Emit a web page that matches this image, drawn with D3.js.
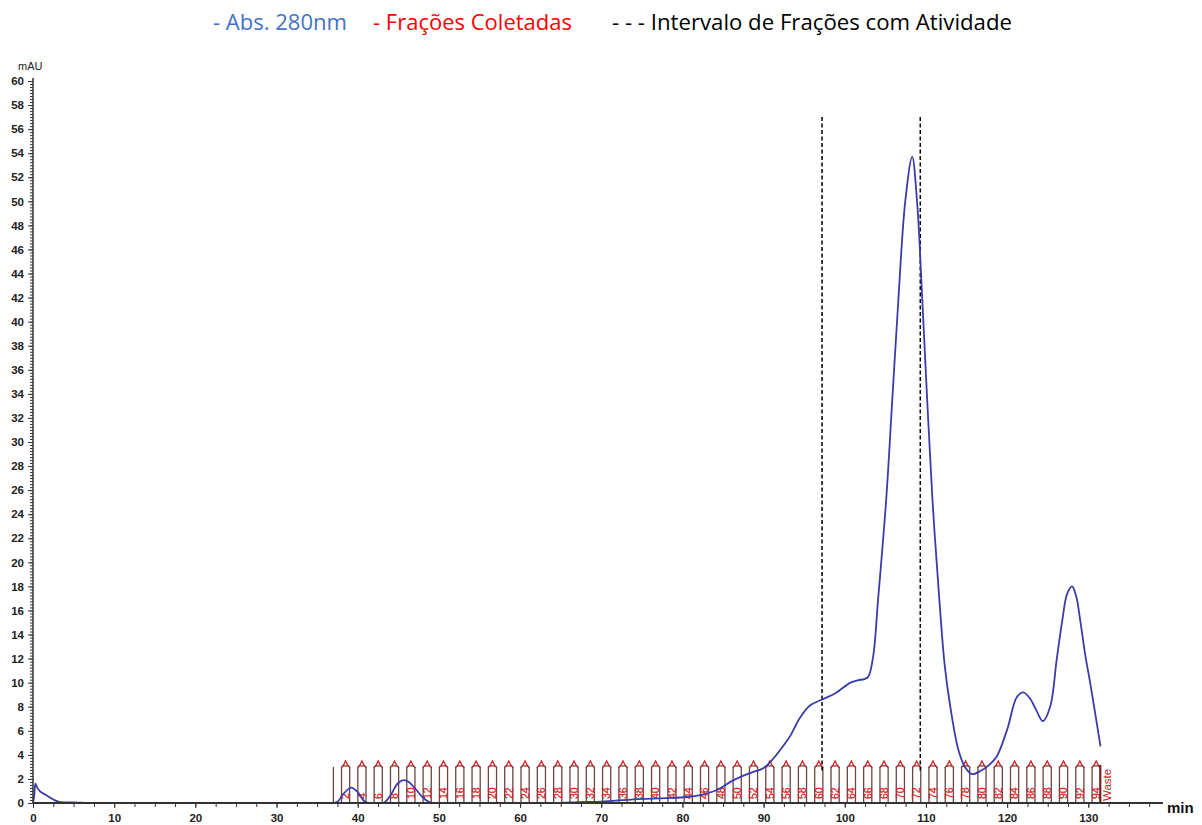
<!DOCTYPE html>
<html>
<head>
<meta charset="utf-8">
<script src="https://cdn.jsdelivr.net/npm/d3@7"></script>
<style>
  html, body { margin: 0; padding: 0; background: #fff; }
  svg { display: block; }
</style>
</head>
<body>
<svg id="chart" width="1202" height="825"></svg>
<script>
// Chromatogram: absorbance at 280 nm over elution time (min)
const time = [
  0, 0.15, 0.3, 0.5, 0.9, 1.5, 2.1, 2.7, 3.2, 4, 5, 6, 7,
  36.9, 37.5, 38.3, 39.2, 40.0, 40.8, 41.3,
  43.2, 44.0, 44.9, 45.6, 46.3, 47.2, 48.2, 49.2,
  65, 67, 70, 74, 78, 80.6, 82.2, 84.3, 86.3, 88.4, 90, 91.2, 92.9,
  93.3, 94.5, 95.7, 97.2, 98.8, 100.7, 101.6, 102.4, 102.9, 103.5,
  104.1, 105.1, 105.85, 106.6, 107.45, 108.3, 108.9, 109.55, 110.15, 110.8,
  111.65, 112.3, 113.0, 114.0, 114.8, 115.7, 116.8, 117.5, 118.7, 120.0,
  121.2, 122.0, 122.8, 123.6, 124.4, 125.3, 126.1, 126.8, 127.4, 128.0,
  128.5, 129.0, 129.6, 130.3, 131.5
];
const abs280 = [
  0, 0.6, 1.6, 1.3, 0.95, 0.7, 0.45, 0.22, 0.1, 0.05, 0.04, 0.03, 0,
  0, 0.1, 0.8, 1.28, 0.9, 0.15, 0,
  0, 0.6, 1.6, 1.9, 1.75, 1.1, 0.35, 0,
  0, 0.08, 0.12, 0.3, 0.4, 0.5, 0.66, 1.1, 1.9, 2.5, 2.9, 3.7, 5.2,
  5.6, 7.1, 8.1, 8.6, 9.1, 10.0, 10.2, 10.3, 10.5, 12.2,
  16.9, 25.2, 33.5, 41.8, 50.0, 53.7, 50.0, 41.8, 33.5, 25.2,
  16.9, 11.5, 8.0, 4.4, 3.0, 2.4, 2.7, 3.0, 3.85, 6.1,
  8.8, 9.2, 8.7, 7.7, 6.8, 8.0, 11.9, 15.2, 17.4, 18.0,
  17.2, 15.2, 12.4, 9.7, 4.7
];

// Fraction collector: first fraction start (min), fraction volume in min, count
const fractionStart = 37.0;
const fractionWidth = 1.005;
const fractionNumbers = d3.range(1, 95);
const wasteLabel = "Waste";

// Interval of fractions showing activity (min)
const activityInterval = [97.2, 109.3];

// Axis ticks
const xTickLabels = [0, 10, 20, 30, 40, 50, 60, 70, 80, 90, 100, 110, 120, 130];
const yTickLabels = d3.range(0, 61, 2);

// Legend entries
const legendText = ["- Abs. 280nm", "- Frações Coletadas", "- - - Intervalo de Frações com Atividade"];
const legendColor = ["#4472c4", "#ff0000", "#000000"];

const svg = d3.select("#chart");
svg.append("rect").attr("width", 1202).attr("height", 825).attr("fill", "#fff");

const x = d3.scaleLinear().domain([0, 139.2]).range([33, 1163]);
const y = d3.scaleLinear().domain([0, 60]).range([803, 81]);

// Keep the trace above the baseline
svg.append("defs").append("clipPath").attr("id", "plotArea")
  .append("rect").attr("x", 33).attr("y", 60).attr("width", 1140).attr("height", y(0) - 60 - 0.8);

// Legend
const legendX = [213, 373, 612];
const legendW = [134, 199, 400];
svg.append("g").selectAll("text").data(legendText).join("text")
  .attr("x", (d, i) => legendX[i])
  .attr("y", 30)
  .attr("font-family", "'Open Sans', 'Noto Sans', sans-serif")
  .attr("font-size", 21)
  .attr("fill", (d, i) => legendColor[i])
  .attr("textLength", (d, i) => legendW[i])
  .attr("lengthAdjust", "spacingAndGlyphs")
  .text(d => d);

// Fraction marks
const fracG = svg.append("g");
const boundaries = d3.range(fractionNumbers.length + 1).map(i => fractionStart + i * fractionWidth);
const topY = y(3);
const lineColor = "#6e4444";
fracG.selectAll("line.b").data(boundaries.slice(0, -1)).join("line")
  .attr("x1", d => x(d)).attr("x2", d => x(d))
  .attr("y1", y(0)).attr("y2", topY)
  .attr("stroke", lineColor).attr("stroke-width", 1.3);

// Even fractions are drawn as closed tubes with an arrow on top
const evenFr = fractionNumbers.filter(n => n % 2 === 0);
fracG.selectAll("path.tube").data(evenFr).join("path")
  .attr("d", n => {
    const a = x(fractionStart + (n - 1) * fractionWidth);
    const b = x(fractionStart + n * fractionWidth);
    return `M${a},${topY + 1}Q${a},${topY - 1} ${a + 2},${topY - 1}L${b - 2},${topY - 1}Q${b},${topY - 1} ${b},${topY + 1}`;
  })
  .attr("fill", "none").attr("stroke", lineColor).attr("stroke-width", 1.3);
fracG.selectAll("path.arrow").data(evenFr).join("path")
  .attr("d", n => {
    const c = x(fractionStart + (n - 0.5) * fractionWidth);
    return `M${c - 3},${topY}L${c},${topY - 6}L${c + 3},${topY}`;
  })
  .attr("fill", "none").attr("stroke", "#d42020").attr("stroke-width", 1.3);

fracG.selectAll("text.fr").data(evenFr).join("text")
  .attr("transform", n => `translate(${x(fractionStart + (n - 0.5) * fractionWidth) + 3.8},799) rotate(-90)`)
  .attr("font-family", "'Liberation Sans', Arial, sans-serif")
  .attr("font-size", 10.5)
  .attr("fill", "#d42020")
  .attr("stroke", "#d42020").attr("stroke-width", 0.25)
  .text(n => n);

// Waste boundary
const wasteT = boundaries[boundaries.length - 1];
fracG.append("line")
  .attr("x1", x(wasteT)).attr("x2", x(wasteT))
  .attr("y1", y(0)).attr("y2", topY - 2)
  .attr("stroke", "#7a1f1f").attr("stroke-width", 2.2);
fracG.append("text")
  .attr("transform", `translate(${x(wasteT) + 11},801) rotate(-90)`)
  .attr("font-family", "'Liberation Sans', Arial, sans-serif")
  .attr("font-size", 11.5)
  .attr("fill", "#d42020")
  .text(wasteLabel);

// Activity interval (dashed)
svg.append("g").selectAll("line").data(activityInterval).join("line")
  .attr("x1", d => x(d)).attr("x2", d => x(d))
  .attr("y1", y(57)).attr("y2", y(2.7))
  .attr("stroke", "#000").attr("stroke-width", 1.5)
  .attr("stroke-dasharray", "4,2.5");

// Absorbance trace
const pts = time.map((t, i) => [t, abs280[i]]);
svg.append("path")
  .datum(pts)
  .attr("clip-path", "url(#plotArea)")
  .attr("fill", "none")
  .attr("stroke", "#3b3cab")
  .attr("stroke-width", 1.8)
  .attr("d", d3.line().x(d => x(d[0])).y(d => y(d[1]))
    .curve(d3.curveCatmullRom.alpha(0.5)));

// Axes
const axisColor = "#333";
const fontAxis = "'Liberation Sans', Arial, sans-serif";

const yMinor = svg.append("g").attr("transform", "translate(33,0)")
  .call(d3.axisLeft(y).tickValues(d3.range(0, 60.01, 0.25)).tickSize(3).tickFormat(""));
yMinor.select(".domain").remove();
yMinor.selectAll("line").attr("stroke", axisColor);

const yAx = svg.append("g").attr("transform", "translate(33,0)")
  .call(d3.axisLeft(y).tickValues(yTickLabels).tickSize(5).tickPadding(4));
yAx.select(".domain").remove();
yAx.selectAll("line").attr("stroke", axisColor);
yAx.selectAll("text").attr("font-family", fontAxis).attr("font-size", 11.5)
  .attr("font-weight", "bold").attr("fill", "#222");

const xMinor = svg.append("g").attr("transform", "translate(0,803)")
  .call(d3.axisBottom(x).tickValues(d3.range(0, 138, 2.5)).tickSize(4).tickFormat(""));
xMinor.select(".domain").remove();
xMinor.selectAll("line").attr("stroke", axisColor);

const xAx = svg.append("g").attr("transform", "translate(0,803)")
  .call(d3.axisBottom(x).tickValues(xTickLabels).tickSize(5).tickPadding(6));
xAx.select(".domain").remove();
xAx.selectAll("line").attr("stroke", axisColor);
xAx.selectAll("text").attr("font-family", fontAxis).attr("font-size", 11.5)
  .attr("font-weight", "bold").attr("fill", "#222");

svg.append("line").attr("x1", 33).attr("x2", 1163).attr("y1", 803).attr("y2", 803)
  .attr("stroke", axisColor).attr("stroke-width", 2);
svg.append("line").attr("x1", 33).attr("x2", 33).attr("y1", 804).attr("y2", 78)
  .attr("stroke", axisColor).attr("stroke-width", 1.5);

svg.append("text").attr("x", 18).attr("y", 70)
  .attr("font-family", fontAxis).attr("font-size", 11).attr("fill", "#222").text("mAU");
svg.append("text").attr("x", 1167).attr("y", 813)
  .attr("font-family", fontAxis).attr("font-size", 15).attr("font-weight", "bold")
  .attr("fill", "#111").text("min");
</script>
</body>
</html>
